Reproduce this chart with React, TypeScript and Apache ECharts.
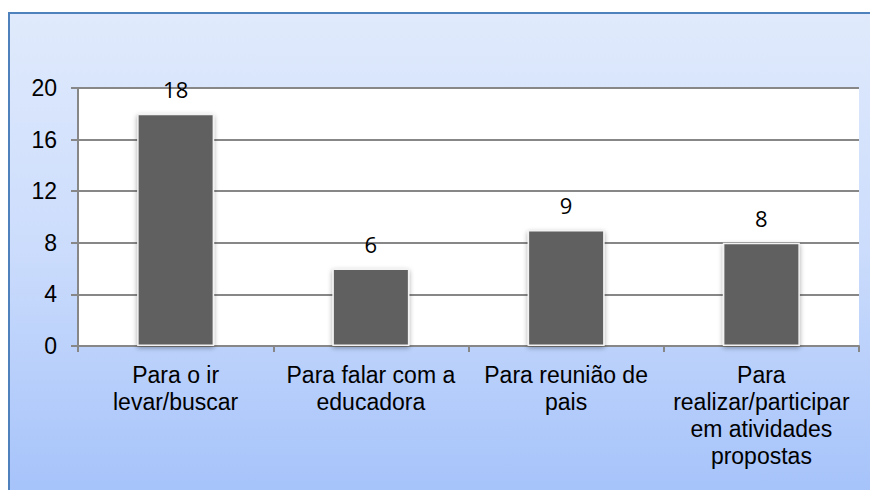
import React, { useEffect, useRef } from "react";
import * as echarts from "echarts";

const categories = [
  "Para o ir\nlevar/buscar",
  "Para falar com a\neducadora",
  "Para reunião de\npais",
  "Para\nrealizar/participar\nem atividades\npropostas",
];
const values = [18, 6, 9, 8];
const yTicks = { min: 0, max: 20, interval: 4 };

const AXIS_FONT = "'Liberation Sans', Arial, sans-serif";

export default function App() {
  const ref = useRef<HTMLDivElement>(null);
  useEffect(() => {
    if (!ref.current) return;
    const chart = echarts.init(ref.current, null, { renderer: "svg" });
    chart.setOption({
      animation: false,
      backgroundColor: "#ffffff",
      graphic: [
        {
          type: "rect",
          z: -100,
          silent: true,
          shape: { x: 9, y: 13, width: 861, height: 477 },
          style: {
            fill: new echarts.graphic.LinearGradient(0, 0, 0, 1, [
              { offset: 0, color: "#e0eafc" },
              { offset: 0.5, color: "#cbdcfc" },
              { offset: 1, color: "#a6c3fa" },
            ]),
          },
        },
        {
          type: "polyline",
          z: -99,
          silent: true,
          shape: { points: [[9, 490], [9, 13], [870, 13]] },
          style: { stroke: "#4f81bd", lineWidth: 2, fill: null },
        },
      ],
      grid: {
        left: 78,
        right: 11,
        top: 88,
        bottom: 144,
        show: true,
        backgroundColor: "#ffffff",
        borderWidth: 0,
        outerBoundsMode: "none",
        containLabel: false,
      },
      xAxis: {
        type: "category",
        data: categories,
        axisLine: { show: true, lineStyle: { color: "#878787", width: 2 } },
        axisTick: { show: true, length: 6, lineStyle: { color: "#878787", width: 2 } },
        axisLabel: {
          interval: 0,
          margin: 15,
          fontFamily: AXIS_FONT,
          fontSize: 23,
          lineHeight: 27,
          color: "#000000",
          align: "center",
        },
      },
      yAxis: {
        type: "value",
        min: yTicks.min,
        max: yTicks.max,
        interval: yTicks.interval,
        axisLine: { show: true, lineStyle: { color: "#878787", width: 2 } },
        axisTick: { show: true, length: 7, lineStyle: { color: "#878787", width: 2 } },
        splitLine: { show: true, lineStyle: { color: "#878787", width: 2 } },
        axisLabel: {
          margin: 21,
          fontFamily: AXIS_FONT,
          fontSize: 23,
          color: "#000000",
        },
      },
      series: [
        {
          type: "bar",
          data: values,
          barWidth: 77,
          itemStyle: {
            color: "#606060",
            borderColor: "#f2f2f2",
            borderWidth: 1.5,
            shadowBlur: 5,
            shadowColor: "rgba(0,0,0,0.35)",
            shadowOffsetY: 2,
          },
          label: {
            show: true,
            position: "top",
            distance: 14,
            fontFamily: "'Open Sans', sans-serif",
            fontSize: 22,
            color: "#000000",
          },
        },
      ],
    });
    return () => chart.dispose();
  }, []);
  return (
    <div
      ref={ref}
      style={{ position: "fixed", left: 0, top: 0, width: 870, height: 490 }}
    />
  );
}
